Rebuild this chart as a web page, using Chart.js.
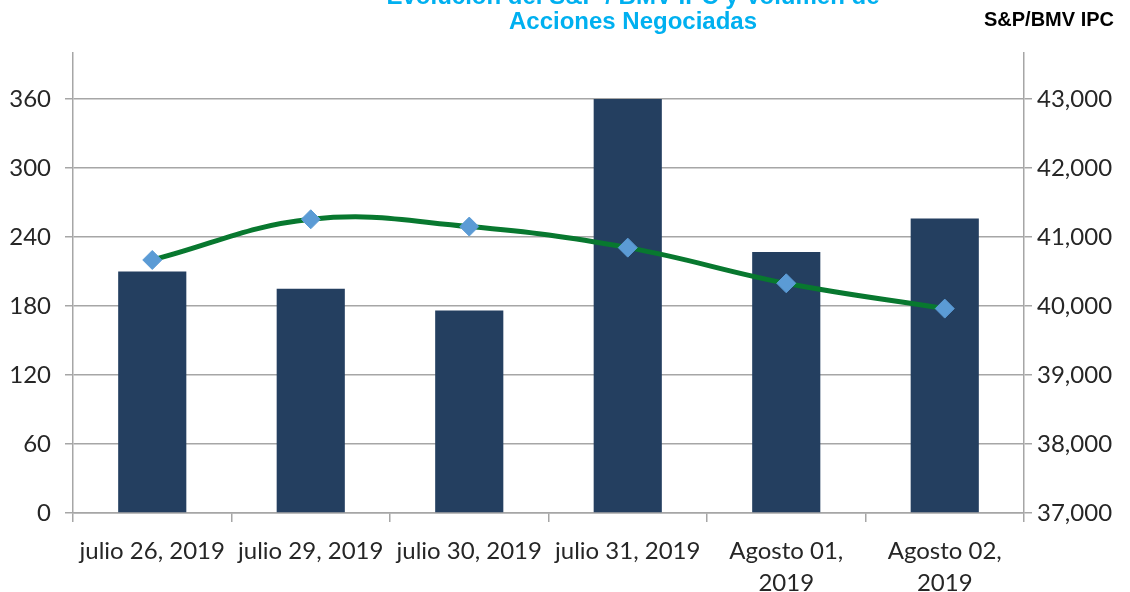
<!DOCTYPE html>
<html lang="es">
<head>
    <meta charset="UTF-8">
    <title>Evolución del S&amp;P / BMV IPC y Volumen de Acciones Negociadas</title>
    <script src="https://cdn.jsdelivr.net/npm/chart.js"></script>
    <style>
        html, body { margin: 0; padding: 0; background: #fff; }
        #wrap { width: 1130px; height: 592px; }
    </style>
</head>
<body>
    <div id="wrap">
        <canvas id="ipcChart" width="1130" height="592"></canvas>
    </div>

    <script>
        // datos
        const categories = [
            'julio 26, 2019',
            'julio 29, 2019',
            'julio 30, 2019',
            'julio 31, 2019',
            ['Agosto 01,', '2019'],
            ['Agosto 02,', '2019']
        ];
        const volumen = [210, 195, 176, 360, 227, 256];          // eje izquierdo
        const ipc = [40667, 41257, 41151, 40846, 40329, 39962];  // eje derecho
        const leftTicks = [0, 60, 120, 180, 240, 300, 360];
        const rightTicks = [37000, 38000, 39000, 40000, 41000, 42000, 43000];
        const titleLines = ['Evolución del S&P / BMV IPC y Volumen de', 'Acciones Negociadas'];
        const rightAxisTitle = 'S&P/BMV IPC';

        const labelFont = { family: 'Lato', size: 24 };

        const titlePlugin = {
            id: 'titulos',
            afterDraw(chart) {
                const ctx = chart.ctx;
                ctx.save();
                ctx.fillStyle = '#00B0F0';
                ctx.font = 'bold 24px "Liberation Sans"';
                ctx.textAlign = 'center';
                ctx.textBaseline = 'middle';
                ctx.fillText(titleLines[0], 633, -3);
                ctx.fillText(titleLines[1], 633, 22);
                ctx.fillStyle = '#000';
                ctx.font = 'bold 20px "Liberation Sans"';
                ctx.textAlign = 'right';
                ctx.fillText(rightAxisTitle, 1114, 20);
                ctx.restore();
            }
        };

        new Chart(document.getElementById('ipcChart'), {
            type: 'bar',
            data: {
                labels: categories,
                datasets: [
                    {
                        type: 'line',
                        data: ipc,
                        yAxisID: 'y2',
                        borderColor: '#08782F',
                        borderWidth: 5,
                        tension: 0.4,
                        pointStyle: 'rectRot',
                        pointRadius: 9.5,
                        pointBackgroundColor: '#5B9BD5',
                        pointBorderColor: '#5B9BD5',
                        pointBorderWidth: 1,
                        order: 0
                    },
                    {
                        data: volumen,
                        yAxisID: 'y',
                        backgroundColor: '#243F60',
                        barPercentage: 0.43,
                        categoryPercentage: 1,
                        order: 1
                    }
                ]
            },
            options: {
                responsive: false,
                animation: false,
                layout: { padding: { top: 53, left: 0, right: 0, bottom: 0 } },
                plugins: {
                    legend: { display: false },
                    tooltip: { enabled: false }
                },
                scales: {
                    x: {
                        afterFit(scale) { scale.height = 79; },
                        grid: {
                            offset: true,
                            drawOnChartArea: false,
                            color: '#A6A6A6',
                            lineWidth: 1.5,
                            tickLength: 9
                        },
                        border: { color: '#A6A6A6', width: 1.5 },
                        ticks: {
                            color: '#262626',
                            font: { family: 'Lato', size: 24, lineHeight: 1.35 },
                            padding: 13,
                            maxRotation: 0,
                            autoSkip: false
                        }
                    },
                    y: {
                        position: 'left',
                        min: 0,
                        max: 400,
                        afterFit(scale) { scale.width = 73; },
                        afterBuildTicks(scale) { scale.ticks = leftTicks.map(v => ({ value: v })); },
                        grid: {
                            color: '#A6A6A6',
                            lineWidth: 1.5,
                            tickLength: 8
                        },
                        border: { color: '#A6A6A6', width: 1.5 },
                        ticks: {
                            color: '#262626',
                            font: labelFont,
                            padding: 14
                        }
                    },
                    y2: {
                        position: 'right',
                        min: 37000,
                        max: 43666.67,
                        afterFit(scale) { scale.width = 106; },
                        afterBuildTicks(scale) { scale.ticks = rightTicks.map(v => ({ value: v })); },
                        grid: {
                            drawOnChartArea: false,
                            color: '#A6A6A6',
                            lineWidth: 1.5,
                            tickLength: 8
                        },
                        border: { color: '#A6A6A6', width: 1.5 },
                        ticks: {
                            color: '#262626',
                            font: labelFont,
                            padding: 5,
                            callback: v => v.toLocaleString('en-US')
                        }
                    }
                }
            },
            plugins: [titlePlugin]
        });
    </script>
</body>
</html>
